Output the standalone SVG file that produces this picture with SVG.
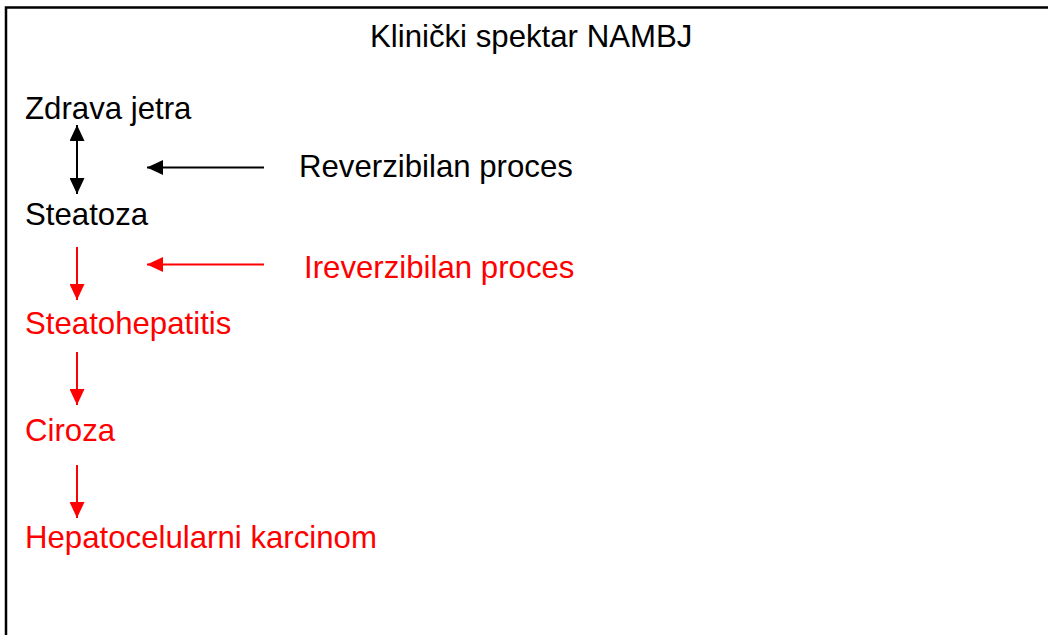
<svg xmlns="http://www.w3.org/2000/svg" width="1048" height="635" viewBox="0 0 1048 635">
<style>
  text { font-family: "Liberation Sans", Arial, sans-serif; font-size: 31.2px; }
  .blk { fill: #000000; }
  .red { fill: #FF0000; }
  .lb { stroke: #000000; stroke-width: 2; fill: none; }
  .lr { stroke: #FF0000; stroke-width: 2; fill: none; }
</style>
<defs>
  <marker id="ahB" viewBox="0 0 16 15" refX="16" refY="7.5" markerWidth="16" markerHeight="15" markerUnits="userSpaceOnUse" orient="auto-start-reverse">
    <path d="M0,0 L16,7.5 L0,15 z" fill="#000000"/>
  </marker>
  <marker id="ahR" viewBox="0 0 16 15" refX="16" refY="7.5" markerWidth="16" markerHeight="15" markerUnits="userSpaceOnUse" orient="auto">
    <path d="M0,0 L16,7.5 L0,15 z" fill="#FF0000"/>
  </marker>
</defs>
<rect x="0" y="0" width="1048" height="635" fill="#FFFFFF"/>
<path d="M6,635 V7.5 H1048" stroke="#000000" stroke-width="2.5" fill="none"/>
<g id="title"><text class="blk" x="370" y="47">Klinički spektar NAMBJ</text></g>
<g id="zdrava"><text class="blk" x="25" y="119">Zdrava jetra</text></g>
<g id="steatoza"><text class="blk" x="25" y="225">Steatoza</text></g>
<g id="steatohepatitis"><text class="red" x="25" y="334">Steatohepatitis</text></g>
<g id="ciroza"><text class="red" x="25" y="441">Ciroza</text></g>
<g id="hcc"><text class="red" x="25" y="548">Hepatocelularni karcinom</text></g>
<g id="reverzibilan"><text class="blk" x="299" y="177">Reverzibilan proces</text></g>
<g id="ireverzibilan"><text class="red" x="304" y="278">Ireverzibilan proces</text></g>
<g id="connectors">
  <line class="lb" x1="77" y1="125" x2="77" y2="194" marker-start="url(#ahB)" marker-end="url(#ahB)"/>
  <line class="lb" x1="264" y1="167.5" x2="147" y2="167.5" marker-end="url(#ahB)"/>
  <line class="lr" x1="77" y1="247" x2="77" y2="300" marker-end="url(#ahR)"/>
  <line class="lr" x1="264" y1="264.5" x2="147" y2="264.5" marker-end="url(#ahR)"/>
  <line class="lr" x1="77" y1="352" x2="77" y2="405" marker-end="url(#ahR)"/>
  <line class="lr" x1="77" y1="465" x2="77" y2="518" marker-end="url(#ahR)"/>
</g>
</svg>
